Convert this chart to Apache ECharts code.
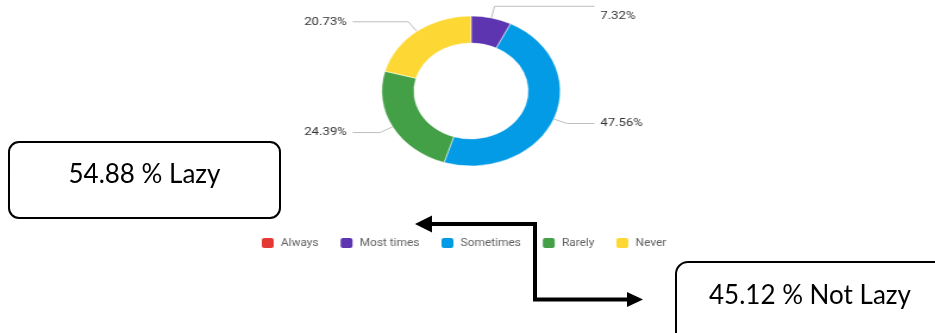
<!DOCTYPE html>
<html>
<head>
<meta charset="utf-8">
<script src="https://cdn.jsdelivr.net/npm/echarts@6/dist/echarts.min.js"></script>
<style>
  html, body { margin: 0; padding: 0; background: #fff; width: 935px; height: 333px; overflow: hidden; }
  /* the donut is drawn in a narrower canvas and stretched horizontally */
  #pie { position: absolute; left: 0; top: 0; width: 786px; height: 333px; transform: scaleX(1.19); transform-origin: 0 0; }
  #notes { position: absolute; left: 0; top: 0; width: 935px; height: 333px; }
</style>
</head>
<body>
<div id="pie"></div>
<div id="notes"></div>
<script>
// Survey answers (respondent counts per option)
const categories = ['Always', 'Most times', 'Sometimes', 'Rarely', 'Never'];
const responses = [0, 6, 39, 20, 17];
const colors = ['#E53935', '#5E35B1', '#039BE5', '#43A047', '#FDD835'];
// options counted as "lazy"
const lazyOptions = ['Always', 'Most times', 'Sometimes'];

const total = responses.reduce((a, b) => a + b, 0);
const lazyCount = categories.reduce((s, c, i) => s + (lazyOptions.includes(c) ? responses[i] : 0), 0);
const lazyPct = (lazyCount / total * 100).toFixed(2);
const notLazyPct = ((total - lazyCount) / total * 100).toFixed(2);

const pieChart = echarts.init(document.getElementById('pie'), null, { renderer: 'canvas' });
pieChart.setOption({
  animation: false,
  color: colors,
  legend: {
    left: 213,
    top: 231,
    itemWidth: 12,
    itemHeight: 12,
    itemGap: 16.5,
    icon: 'roundRect',
    textStyle: { color: '#5f5f5f', fontSize: 10, fontFamily: 'Roboto' },
    data: categories
  },
  series: [{
    type: 'pie',
    center: [395.8, 91],
    radius: [48, 75],
    startAngle: 90,
    clockwise: true,
    minShowLabelAngle: 1,
    avoidLabelOverlap: true,
    itemStyle: { borderColor: '#fff', borderWidth: 0.5 },
    label: {
      formatter: '{d}%',
      color: '#333',
      fontSize: 11,
      fontFamily: 'Roboto',
      alignTo: 'labelLine',
      distanceToLabelLine: 5
    },
    labelLine: {
      length: 12,
      length2: 23,
      lineStyle: { color: '#bdbdbd', width: 1 }
    },
    data: categories.map((c, i) => {
      const item = { name: c, value: responses[i] };
      // the small top slice keeps its text just under the leader line
      if (c === 'Most times') item.label = { offset: [0, 10] };
      return item;
    })
  }]
});

// Annotation layer: summary boxes and the connecting arrow
const notes = echarts.init(document.getElementById('notes'), null, { renderer: 'canvas' });
const boxText = { fontSize: 26, fontFamily: 'Lato', fill: '#000', align: 'center', verticalAlign: 'middle' };
notes.setOption({
  animation: false,
  graphic: [
    {
      type: 'rect',
      shape: { x: 9, y: 142, width: 271, height: 76, r: 10 },
      style: { fill: 'none', stroke: '#000', lineWidth: 2 }
    },
    {
      type: 'text', x: 144.5, y: 175,
      style: Object.assign({ text: lazyPct + ' % Lazy' }, boxText)
    },
    {
      type: 'rect',
      shape: { x: 676, y: 262, width: 280, height: 90, r: 12 },
      style: { fill: 'none', stroke: '#000', lineWidth: 2 }
    },
    {
      type: 'text', x: 810, y: 296,
      style: Object.assign({ text: notLazyPct + ' % Not Lazy' }, boxText)
    },
    {
      type: 'polyline',
      shape: { points: [[428, 224], [535, 224], [535, 299.5], [630, 299.5]] },
      style: { stroke: '#000', lineWidth: 4, fill: 'none', lineJoin: 'miter' }
    },
    {
      type: 'polygon',
      shape: { points: [[415, 224], [432, 215.5], [432, 232.5]] },
      style: { fill: '#000' }
    },
    {
      type: 'polygon',
      shape: { points: [[643, 299.5], [627, 292], [627, 307]] },
      style: { fill: '#000' }
    }
  ]
});
</script>
</body>
</html>
